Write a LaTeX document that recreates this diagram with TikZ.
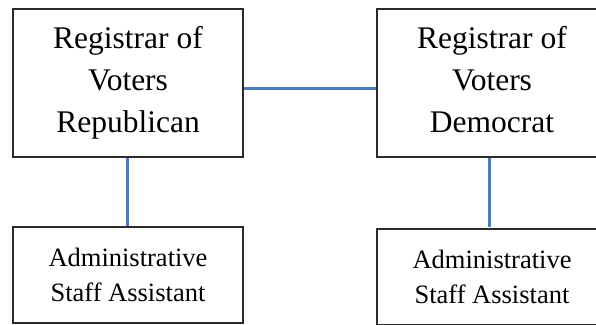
\documentclass[tikz,border=0pt]{standalone}
\usepackage{fontspec}
\setmainfont{Liberation Serif}
\definecolor{linkblue}{HTML}{4A7EBB}
\definecolor{boxline}{HTML}{2B2B2B}
\begin{document}
\begin{tikzpicture}[x=1pt,y=-1pt,
  officebox/.style={draw=boxline,line width=1.6pt,fill=white,rectangle,
    align=center,inner sep=0pt},
  headbox/.style={officebox,minimum width=230pt,minimum height=148pt,
    font=\fontsize{31.5}{42}\selectfont},
  staffbox/.style={officebox,minimum width=230pt,minimum height=96pt,
    font=\fontsize{26.5}{35}\selectfont},
  link/.style={draw=linkblue,line width=3pt}]
\useasboundingbox (0,0) rectangle (596,324);
\clip (0,0) rectangle (596,324);

% registrars (phantom descender keeps both baselines level)
\node[headbox] (rep) at (128,83) {Registrar of\\Voters\\Republican};
\node[headbox] (dem) at (492,83) {Registrar of\\Voters\\Democrat\vphantom{p}};

% staff assistants
\node[staffbox] (repstaff) at (128,275) {Administrative\\Staff Assistant};
\node[staffbox] (demstaff) at (492,277) {Administrative\\Staff Assistant};

% connectors
\draw[link] ([yshift=-5pt]rep.east) -- ([yshift=-5pt]dem.west);
\draw[link] ([xshift=-1pt]rep.south) -- ([xshift=-1pt]repstaff.north);
\draw[link] ([xshift=-3pt]dem.south) -- ([xshift=-3pt,yshift=1pt]demstaff.north);
\end{tikzpicture}
\end{document}
